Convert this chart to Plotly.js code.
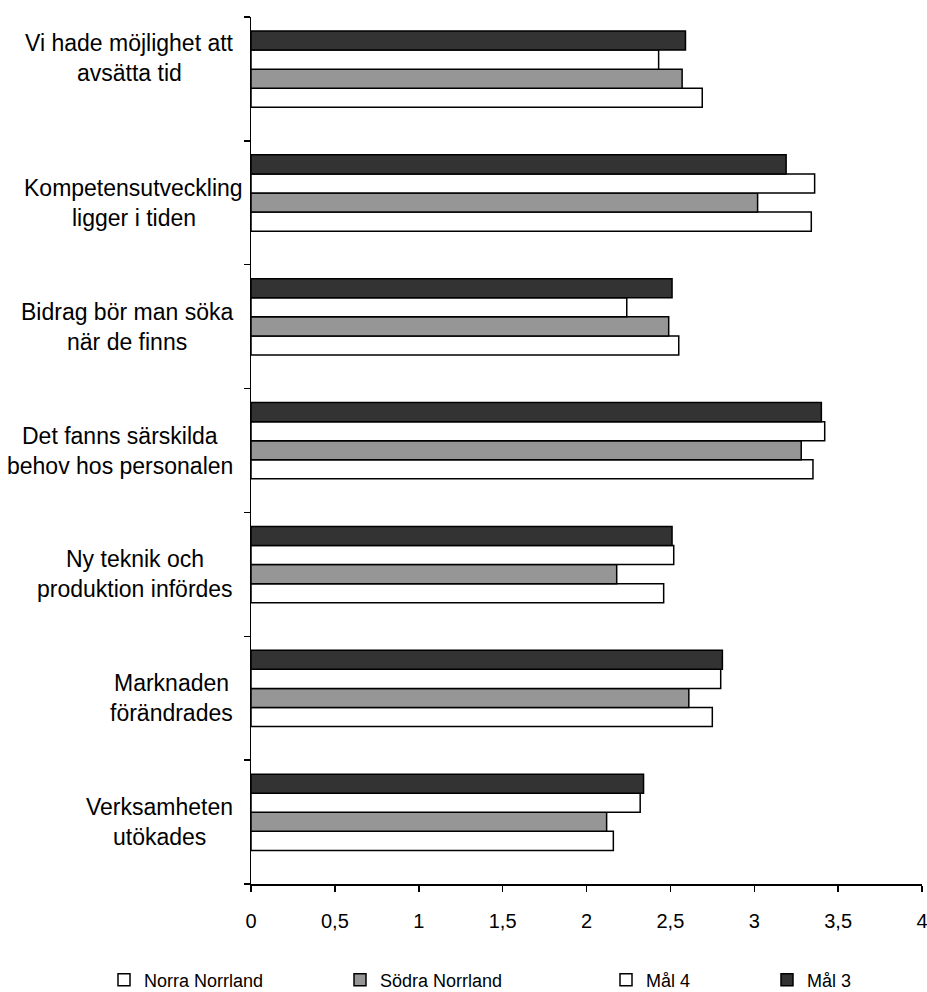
<!DOCTYPE html>
<html>
<head>
<meta charset="utf-8">
<script src="https://cdn.plot.ly/plotly-3.0.1.min.js"></script>
<style>
  html, body { margin: 0; padding: 0; background: #ffffff; }
  #chart { width: 927px; height: 992px; }
</style>
</head>
<body>
<div id="chart"></div>
<script>
// Reasons for investing in staff training, mean scores per region (top to bottom)
const categories = [
  "Vi hade möjlighet att\navsätta tid",
  "Kompetensutveckling\nligger i tiden",
  "Bidrag bör man söka\nnär de finns",
  "Det fanns särskilda\nbehov hos personalen",
  "Ny teknik och\nproduktion infördes",
  "Marknaden\nförändrades",
  "Verksamheten\nutökades"
];

const seriesNames = ["Norra Norrland", "Södra Norrland", "Mål 4", "Mål 3"];

const norraNorrland = [2.69, 3.34, 2.55, 3.35, 2.46, 2.75, 2.16];
const sodraNorrland = [2.57, 3.02, 2.49, 3.28, 2.18, 2.61, 2.12];
const mal4          = [2.43, 3.36, 2.24, 3.42, 2.52, 2.80, 2.32];
const mal3          = [2.59, 3.19, 2.51, 3.40, 2.51, 2.81, 2.34];

const xTicks = [0, 0.5, 1, 1.5, 2, 2.5, 3, 3.5, 4];

// ---- presentation ----
const FONT = "Liberation Sans, Arial, sans-serif";
const LABEL_SIZE = 23;
const fills = ["#ffffff", "#969696", "#ffffff", "#333333"];
const seriesValues = [norraNorrland, sodraNorrland, mal4, mal3];

// bar slot geometry inside one category band (category units)
const BAR_W = 0.154;
const TOP_GAP = 0.113;
// legend symbol centres in px from the left edge
const legendSymbolPx = [124, 360, 626, 787];
// category label blocks: right edge in px, lines centred within the block
const LABEL_RIGHT = 233;
const labelNudgeX = [0, 10, 0, 0, 0, 0, 0];
const labelLift = [21, 0, 0, 0, 0, 0, 0];
const LINE_H = 30;

const W = 927, H = 992, PLOT_LEFT = 251;
const nSeries = seriesValues.length;

const measureCtx = document.createElement("canvas").getContext("2d");
measureCtx.font = LABEL_SIZE + "px 'Liberation Sans', Arial, sans-serif";
const textWidth = s => measureCtx.measureText(s).width;

const traces = seriesValues.map((vals, i) => {
  const top = 0.5 - TOP_GAP - (nSeries - 1 - i) * BAR_W; // upper edge
  return {
    type: "bar",
    orientation: "h",
    name: seriesNames[i],
    y: categories,
    x: vals,
    width: BAR_W,
    offset: top - BAR_W,
    marker: { color: fills[i], line: { color: "#000000", width: 1.5 } },
    legend: i === 0 ? "legend" : "legend" + (i + 1),
    hoverinfo: "skip"
  };
});

const annotations = [];
categories.forEach((cat, ci) => {
  const lines = cat.split("\n");
  const blockW = Math.max(...lines.map(textWidth));
  const centre = LABEL_RIGHT + labelNudgeX[ci] - blockW / 2;
  lines.forEach((ln, li) => {
    annotations.push({
      xref: "paper", yref: "y",
      x: 0, y: cat,
      xanchor: "center", yanchor: "middle",
      xshift: centre - PLOT_LEFT,
      yshift: ((lines.length - 1) / 2 - li) * LINE_H + labelLift[ci],
      text: ln,
      showarrow: false,
      font: { family: FONT, size: LABEL_SIZE, color: "#000000" }
    });
  });
});

const legendBase = {
  orientation: "h",
  xref: "container", yref: "container",
  xanchor: "left", yanchor: "middle",
  y: 12 / H,
  bgcolor: "rgba(0,0,0,0)",
  borderwidth: 0,
  font: { family: FONT, size: 18, color: "#000000" },
  itemclick: false, itemdoubleclick: false
};

const layout = {
  width: W, height: H,
  margin: { l: PLOT_LEFT, r: 5, t: 17, b: 108, pad: 0 },
  paper_bgcolor: "#ffffff",
  plot_bgcolor: "#ffffff",
  separators: ", ",
  font: { family: FONT, size: 20, color: "#000000" },
  barmode: "overlay",
  showlegend: true,
  xaxis: {
    range: [0, 4],
    tickmode: "array",
    tickvals: xTicks,
    ticktext: xTicks.map(v => String(v).replace(".", ",")),
    ticks: "outside", ticklen: 6, tickwidth: 1.5, tickcolor: "#000000",
    ticklabelstandoff: 12,
    ticklabeloverflow: "allow",
    showline: true, linecolor: "#000000", linewidth: 1.5,
    showgrid: false, zeroline: false,
    tickfont: { family: FONT, size: 20, color: "#000000" },
    fixedrange: true
  },
  yaxis: {
    type: "category",
    categoryorder: "array",
    categoryarray: categories.slice().reverse(),
    range: [-0.5, categories.length - 0.5],
    tickson: "boundaries",
    ticks: "outside", ticklen: 6, tickwidth: 1.5, tickcolor: "#000000",
    showticklabels: false,
    showline: true, linecolor: "#000000", linewidth: 1.5,
    showgrid: false, zeroline: false,
    fixedrange: true
  },
  annotations: annotations
};

seriesNames.forEach((n, i) => {
  const key = i === 0 ? "legend" : "legend" + (i + 1);
  layout[key] = Object.assign({}, legendBase, { x: (legendSymbolPx[i] - 20) / W });
});

Plotly.newPlot("chart", traces, layout, { displayModeBar: false, staticPlot: true });
</script>
</body>
</html>
